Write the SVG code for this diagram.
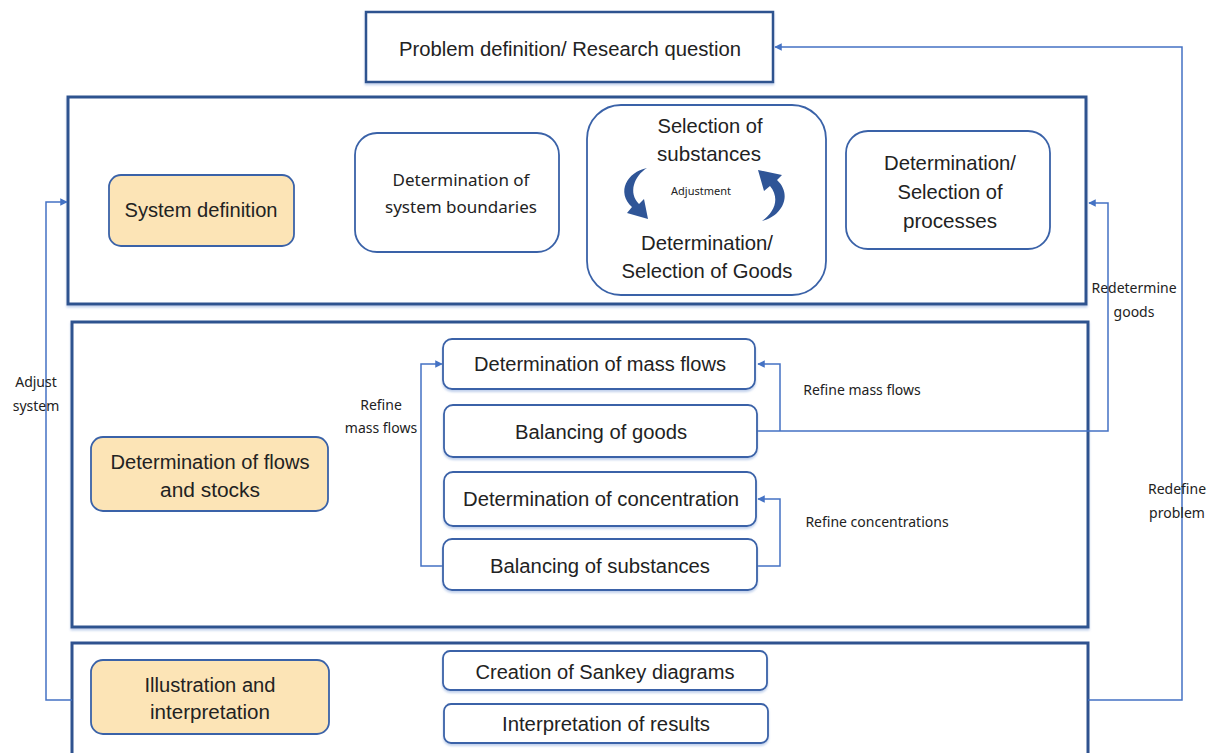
<svg xmlns="http://www.w3.org/2000/svg" width="1215" height="753" viewBox="0 0 1215 753">
  <style>
    .frame { fill: #ffffff; stroke: #2F528F; stroke-width: 3; }
    .box { fill: #ffffff; stroke: #3A62A8; stroke-width: 1.8; }
    .phase { fill: #FCE4B6; stroke: #3A62A8; stroke-width: 1.8; }
    .main { font-family: "Liberation Sans", Arial, sans-serif; font-size: 20px; fill: #222222; text-anchor: middle; }
    .big { font-size: 21px; }
    .small { font-family: "Noto Sans", "Open Sans", sans-serif; font-size: 17px; fill: #222222; text-anchor: middle; }
    .note { font-family: "Noto Sans", "Open Sans", sans-serif; font-size: 14px; fill: #222222; text-anchor: middle; }
    .tiny { font-size: 11px; }
    .link { fill: none; stroke: #4472C4; stroke-width: 1.5; }
    .cycle { fill: #2F5597; stroke: none; }
  </style>
  <defs>
    <marker id="arrow" viewBox="0 0 10 10" refX="9" refY="5" markerWidth="5" markerHeight="5" orient="auto">
      <path d="M0,0 L10,5 L0,10 z" fill="#4472C4"/>
    </marker>
    <filter id="shade" x="-5%" y="-5%" width="110%" height="120%">
      <feDropShadow dx="0" dy="2" stdDeviation="1" flood-color="#8FAADC" flood-opacity="0.55"/>
    </filter>
  </defs>

  <rect width="1215" height="753" fill="#ffffff"/>

  <!-- stage frames -->
  <g id="frame-system">
    <rect class="frame" x="68" y="97" width="1018" height="207" filter="url(#shade)"/>
  </g>
  <g id="frame-flows">
    <rect class="frame" x="72" y="322" width="1016" height="305" filter="url(#shade)"/>
  </g>
  <g id="frame-illustration">
    <rect class="frame" x="72" y="643" width="1016" height="130"/>
  </g>

  <!-- feedback connectors -->
  <g id="connectors">
    <!-- Adjust system -->
    <path class="link" d="M72,700 H46 V202 H67" marker-end="url(#arrow)"/>
    <!-- Redefine problem -->
    <path class="link" d="M1088,700 H1182 V47 H775" marker-end="url(#arrow)"/>
    <!-- Redetermine goods -->
    <path class="link" d="M757,431 H1108 V203 H1089" marker-end="url(#arrow)"/>
    <!-- Refine mass flows (right) -->
    <path class="link" d="M780,431 V364 H758" marker-end="url(#arrow)"/>
    <!-- Refine concentrations -->
    <path class="link" d="M757,566 H780 V499 H758" marker-end="url(#arrow)"/>
    <!-- Refine mass flows (left) -->
    <path class="link" d="M443,566 H421 V364 H442" marker-end="url(#arrow)"/>
  </g>

  <!-- connector labels -->
  <g id="labels">
    <text class="note" x="36" y="387">Adjust</text>
    <text class="note" x="36" y="411">system</text>
    <text class="note" x="1177" y="494">Redefine</text>
    <text class="note" x="1177" y="518">problem</text>
    <text class="note" x="1134" y="293">Redetermine</text>
    <text class="note" x="1134" y="317">goods</text>
    <text class="note" x="862" y="395">Refine mass flows</text>
    <text class="note" x="877" y="527">Refine concentrations</text>
    <text class="note" x="381" y="410">Refine</text>
    <text class="note" x="381" y="433">mass flows</text>
  </g>

  <!-- problem definition -->
  <g id="node-problem">
    <rect x="366" y="12" width="407" height="70" fill="#ffffff" stroke="#2F528F" stroke-width="2.5" filter="url(#shade)"/>
    <text class="main" x="570" y="56" textLength="342" lengthAdjust="spacingAndGlyphs">Problem definition/ Research question</text>
  </g>

  <!-- system definition stage -->
  <g id="node-system-definition">
    <rect class="phase" x="109" y="175" width="185" height="71" rx="12"/>
    <text class="main" x="201" y="217" textLength="153" lengthAdjust="spacingAndGlyphs">System definition</text>
  </g>
  <g id="node-system-boundaries">
    <rect class="box" x="355" y="133" width="204" height="119" rx="22"/>
    <text class="small" x="461" y="186">Determination of</text>
    <text class="small" x="461" y="213">system boundaries</text>
  </g>
  <g id="node-substances-goods">
    <rect class="box" x="587" y="105" width="239" height="190" rx="34"/>
    <text class="main big" x="710" y="133" textLength="105" lengthAdjust="spacingAndGlyphs">Selection of</text>
    <text class="main big" x="709" y="161" textLength="104" lengthAdjust="spacingAndGlyphs">substances</text>
    <text class="note tiny" x="701" y="195">Adjustment</text>
    <text class="main big" x="707" y="250" textLength="132" lengthAdjust="spacingAndGlyphs">Determination/</text>
    <text class="main big" x="707" y="278" textLength="171" lengthAdjust="spacingAndGlyphs">Selection of Goods</text>
    <!-- adjustment cycle arrows: tapered crescents with heads -->
    <path class="cycle" d="M647,168 C627,172 616,192 632,207 L627,213 L648,219 L644,199 L639,204 C628,193 634,176 647,168 Z"/>
    <path class="cycle" d="M762,221 C782,216 793,195 777,180 L782,175 L758,170 L764,191 L770,186 C780,198 775,212 762,221 Z"/>
  </g>
  <g id="node-processes">
    <rect class="box" x="846" y="131" width="204" height="118" rx="22"/>
    <text class="main big" x="950" y="170" textLength="132" lengthAdjust="spacingAndGlyphs">Determination/</text>
    <text class="main big" x="950" y="199" textLength="105" lengthAdjust="spacingAndGlyphs">Selection of</text>
    <text class="main big" x="950" y="228" textLength="94" lengthAdjust="spacingAndGlyphs">processes</text>
  </g>

  <!-- flows and stocks stage -->
  <g id="node-flows-stocks">
    <rect class="phase" x="91" y="437" width="237" height="74" rx="12"/>
    <text class="main" x="210" y="469" textLength="199" lengthAdjust="spacingAndGlyphs">Determination of flows</text>
    <text class="main" x="210" y="497" textLength="100" lengthAdjust="spacingAndGlyphs">and stocks</text>
  </g>
  <g id="node-mass-flows">
    <rect class="box" x="443" y="339" width="312" height="50" rx="9" filter="url(#shade)"/>
    <text class="main" x="600" y="371" textLength="252" lengthAdjust="spacingAndGlyphs">Determination of mass flows</text>
  </g>
  <g id="node-balancing-goods">
    <rect class="box" x="444" y="405" width="313" height="52" rx="9" filter="url(#shade)"/>
    <text class="main" x="601" y="439" textLength="172" lengthAdjust="spacingAndGlyphs">Balancing of goods</text>
  </g>
  <g id="node-concentration">
    <rect class="box" x="444" y="472" width="312" height="54" rx="9" filter="url(#shade)"/>
    <text class="main" x="601" y="506" textLength="276" lengthAdjust="spacingAndGlyphs">Determination of concentration</text>
  </g>
  <g id="node-balancing-substances">
    <rect class="box" x="443" y="539" width="314" height="51" rx="9" filter="url(#shade)"/>
    <text class="main" x="600" y="573" textLength="220" lengthAdjust="spacingAndGlyphs">Balancing of substances</text>
  </g>

  <!-- illustration stage -->
  <g id="node-illustration">
    <rect class="phase" x="91" y="660" width="238" height="74" rx="12"/>
    <text class="main" x="210" y="692" textLength="131" lengthAdjust="spacingAndGlyphs">Illustration and</text>
    <text class="main" x="210" y="719" textLength="120" lengthAdjust="spacingAndGlyphs">interpretation</text>
  </g>
  <g id="node-sankey">
    <rect class="box" x="443" y="651" width="324" height="39" rx="7" filter="url(#shade)"/>
    <text class="main" x="605" y="679" textLength="259" lengthAdjust="spacingAndGlyphs">Creation of Sankey diagrams</text>
  </g>
  <g id="node-interpretation">
    <rect class="box" x="444" y="704" width="324" height="39" rx="7" filter="url(#shade)"/>
    <text class="main" x="606" y="731" textLength="208" lengthAdjust="spacingAndGlyphs">Interpretation of results</text>
  </g>
</svg>
